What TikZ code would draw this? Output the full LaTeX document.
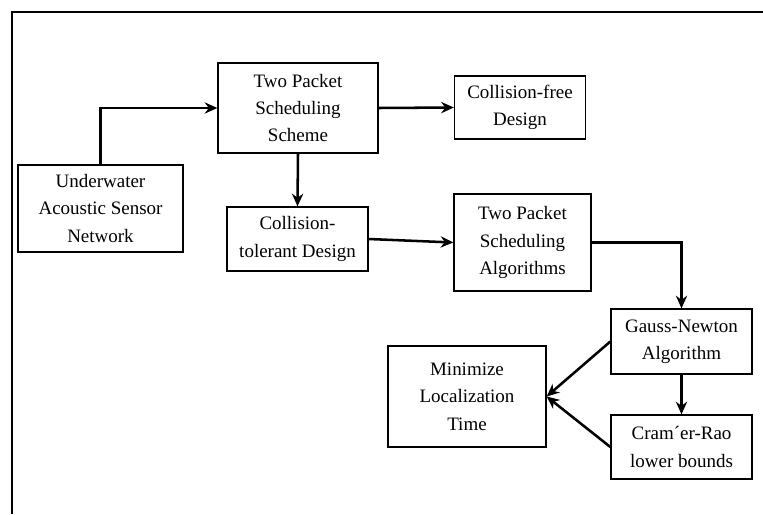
\documentclass[tikz,border=0pt]{standalone}
\usepackage{fontspec}
\setmainfont{Liberation Serif}
\newfontfamily\diagfont{Liberation Serif}
\usepackage{tikz}
\usetikzlibrary{positioning,arrows.meta}
\usepackage{xcolor}

\begin{document}
\begin{tikzpicture}[x=0.025cm, y=-0.025cm, >={Stealth[length=9pt,width=8pt]}, line width=0.9pt,
    font=\diagfont\fontsize{13.5}{19.5}\selectfont]
    \useasboundingbox (0,0) rectangle (763,514);
    % Marco
    \draw[line width=1.8pt] (12,514) -- (12,12) -- (763,12);

    % Definición de bloques
    \node [draw, rectangle, align=center, inner sep=0pt, minimum width=4.125cm, minimum height=2.175cm] (uasn) at (100.5,208.5) {Underwater\\Acoustic Sensor\\Network};
    \node [draw, rectangle, align=center, inner sep=0pt, minimum width=4cm, minimum height=2.25cm] (scheme) at (298,108) {Two Packet\\Scheduling\\Scheme};
    \node [draw, rectangle, align=center, inner sep=0pt, minimum width=3.275cm, minimum height=1.575cm] (free) at (520,107.5) {Collision-free\\Design};
    \node [draw, rectangle, align=center, inner sep=0pt, minimum width=3.525cm, minimum height=1.6cm] (tolerant) at (297.5,239) {Collision-\\tolerant Design};
    \node [draw, rectangle, align=center, inner sep=0pt, minimum width=3.425cm, minimum height=2.425cm] (algos) at (522.5,242.5) {Two Packet\\Scheduling\\Algorithms};
    \node [draw, rectangle, align=center, inner sep=0pt, minimum width=3.525cm, minimum height=1.625cm] (gauss) at (681.5,341.5) {Gauss-Newton\\Algorithm};
    \node [draw, rectangle, align=center, inner sep=0pt, minimum width=3.525cm, minimum height=1.6cm] (cramer) at (681.5,447) {Cram´er-Rao\\lower bounds};
    \node [draw, rectangle, align=center, inner sep=0pt, minimum width=3.95cm, minimum height=2.525cm] (minimize) at (467,396.5) {Minimize\\Localization\\Time};

    % Flechas
    \draw[->, line width=1.8pt] (uasn.north) |- (scheme.west);
    \draw[->, line width=1.8pt] (scheme.east) -- (free.west);
    \draw[->, line width=1.8pt] (scheme.south) -- (tolerant.north);
    \draw[->, line width=1.8pt] (tolerant.east) -- (algos.west);
    \draw[->, line width=1.8pt] (algos.east) -| (gauss.north);
    \draw[->, line width=1.8pt] (gauss.south) -- (cramer.north);
    \draw[->, line width=1.8pt] (gauss.west) -- (minimize.east);
    \draw[->, line width=1.8pt] (cramer.west) -- (minimize.east);
\end{tikzpicture}
\end{document}
